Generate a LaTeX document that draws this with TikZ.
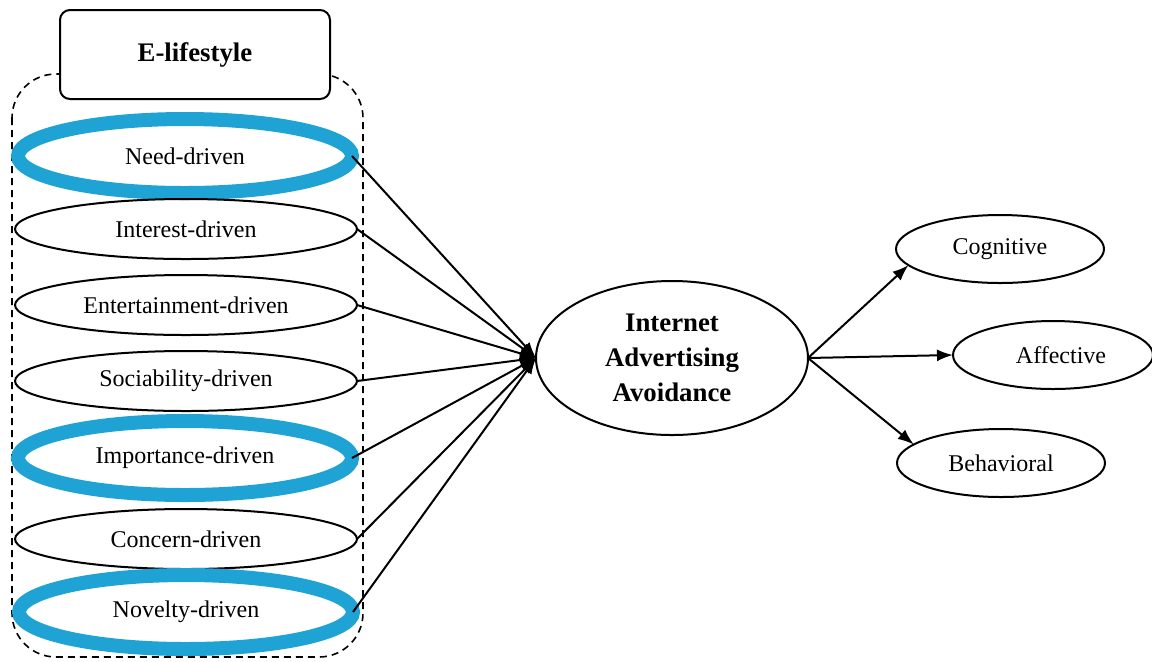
\documentclass[tikz,border=0pt]{standalone}
\usepackage{fontspec}
\setmainfont{Liberation Serif}
\usetikzlibrary{shapes.geometric,arrows.meta}
\definecolor{hlblue}{RGB}{30,163,212}
\tikzset{
  lell/.style={ellipse,draw=black,line width=1pt,inner sep=0pt,outer sep=0pt,
    minimum width=171pt,minimum height=30pt,font=\fontsize{12}{14}\selectfont},
  hell/.style={lell,draw=hlblue,line width=7pt,minimum width=167pt,minimum height=37pt},
  rell/.style={ellipse,draw=black,line width=1pt,inner sep=0pt,outer sep=0pt,
    minimum width=104pt,minimum height=34pt,font=\fontsize{12}{14}\selectfont},
  conn/.style={line width=1pt,-{Latex[length=8pt,width=6pt]}}
}
\begin{document}
\begin{tikzpicture}[x=0.5pt,y=-0.5pt]
\useasboundingbox (0,0) rectangle (1152,661);
\draw[dashed,dash pattern=on 3.5pt off 2.5pt,line width=0.8pt,rounded corners=22pt] (12,74) rectangle (363,657);
\node[draw,line width=1pt,fill=white,rounded corners=5pt,minimum width=135pt,minimum height=44.5pt,inner sep=0pt]
  (el) at (195,54.5) {\fontsize{13.4}{16}\selectfont\bfseries E-lifestyle};
\node[hell] (need) at (185,156) {Need-driven};
\node[lell] (int) at (186,229) {Interest-driven};
\node[lell] (ent) at (186,305) {Entertainment-driven};
\node[lell] (soc) at (186,381) {Sociability-driven};
\node[hell] (imp) at (185,458) {Importance-driven};
\node[lell] (con) at (186,539) {Concern-driven};
\node[hell] (nov) at (186,612) {Novelty-driven};
\node[ellipse,draw,line width=1pt,inner sep=0pt,outer sep=0pt,minimum width=136pt,minimum height=77pt,
  align=center,font=\fontsize{13.4}{17.5}\selectfont\bfseries] (iaa) at (672,358)
  {Internet\\Advertising\\Avoidance};
\node[rell] (cog) at (1000,249) {Cognitive};
\node[rell,minimum width=100pt] (aff) at (1053,355) {\hspace*{8pt}Affective};
\node[rell] (beh) at (1001,463) {Behavioral};
\foreach \n in {need,int,ent,soc,imp,con,nov}
  \draw[conn] (\n.east) -- (iaa.west);
\draw[conn] (iaa.east) -- (cog.190);
\draw[conn] (iaa.east) -- (aff.west);
\draw[conn] (iaa.east) -- (beh.168);
\end{tikzpicture}
\end{document}
